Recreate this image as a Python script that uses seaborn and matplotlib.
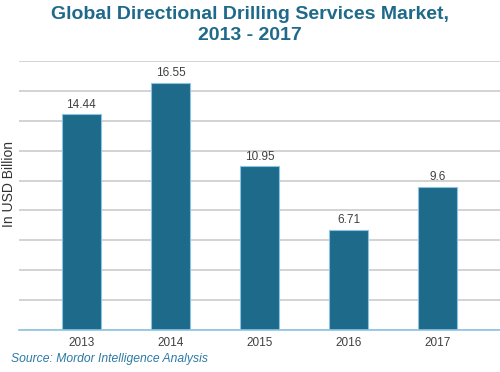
import matplotlib
matplotlib.use("Agg")
import matplotlib.pyplot as plt
import pandas as pd
import seaborn as sns

# data
years = ["2013", "2014", "2015", "2016", "2017"]
values = [14.44, 16.55, 10.95, 6.71, 9.6]
labels = ["14.44", "16.55", "10.95", "6.71", "9.6"]

df = pd.DataFrame({"year": years, "value": values})

sns.set_style("white")
plt.rcParams["font.family"] = ["Liberation Sans", "DejaVu Sans"]

bar_color = "#1d6a8a"
text_teal = "#1f6a8a"

fig = plt.figure(figsize=(5, 3.72), dpi=100)
ax = fig.add_axes([0.038, 0.113, 0.962, 0.723])

sns.barplot(data=df, x="year", y="value", color=bar_color, width=0.44,
            saturation=1, edgecolor="#8cc4e4", linewidth=0.8, ax=ax, zorder=3)

# value labels
for i, (v, lab) in enumerate(zip(values, labels)):
    ax.text(i, v + 0.22, lab, ha="center", va="bottom", fontsize=8.5, color="#404040")

ax.set_xlim(-0.7, 4.7)
ax.set_ylim(0, 18)
ax.set_yticks(range(0, 19, 2))
ax.set_yticklabels([])
ax.tick_params(axis="y", length=0)
ax.tick_params(axis="x", length=0, labelsize=8.5, labelcolor="#404040", pad=5)
ax.grid(axis="y", color="#d0d0d0", linewidth=1.3, zorder=0)
ax.set_axisbelow(True)
for s in ["top", "right", "left"]:
    ax.spines[s].set_visible(False)
ax.spines["bottom"].set_color("#8cc4e4")
ax.spines["bottom"].set_linewidth(1.2)
ax.spines["bottom"].set_zorder(4)
ax.set_xlabel("")
ax.set_ylabel("")
fig.text(0.018, 1 - 184 / 372, "In USD Billion", rotation=90, ha="center", va="center",
         fontsize=10, color="#333333")

fig.text(0.5, 0.985, "Global Directional Drilling Services Market,\n2013 - 2017",
         ha="center", va="top", fontsize=14, fontweight="bold", color=text_teal,
         linespacing=1.35)
fig.text(0.022, 0.018, "Source: Mordor Intelligence Analysis", ha="left", va="bottom",
         fontsize=8.7, style="italic", color="#2b7aa6")

fig.savefig("out.png", dpi=100)
